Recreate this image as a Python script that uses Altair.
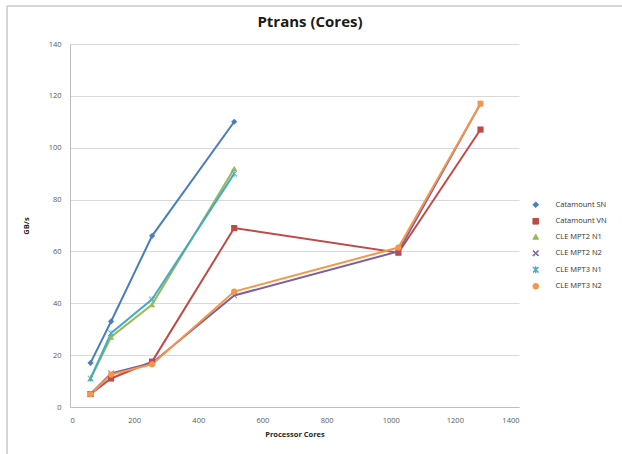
import altair as alt
import pandas as pd

series_names = ["Catamount SN", "Catamount VN", "CLE MPT2 N1",
                "CLE MPT2 N2", "CLE MPT3 N1", "CLE MPT3 N2"]
colors = ["#4a7ebb", "#be4b48", "#98b954", "#7d60a0", "#46aac5", "#f79646"]

# Marker shapes per series
x_path = "M-1,-0.8L-0.8,-1L0,-0.2L0.8,-1L1,-0.8L0.2,0L1,0.8L0.8,1L0,0.2L-0.8,1L-1,0.8L-0.2,0Z"
star_path = ("M-1,-0.8L-0.8,-1L-0.1,-0.3L-0.1,-1.1L0.1,-1.1L0.1,-0.3L0.8,-1L1,-0.8L0.2,0L1,0.8L0.8,1"
             "L0.1,0.3L0.1,1.1L-0.1,1.1L-0.1,0.3L-0.8,1L-1,0.8L-0.2,0Z")
shapes = ["diamond", "square", "triangle-up", x_path, star_path, "circle"]

cores_short = [64, 128, 256, 512]
cores_long = [64, 128, 256, 512, 1024, 1280]

catamount_sn = [17, 33, 66, 110]
catamount_vn = [5, 11, 17.5, 69, 59.5, 107]
cle_mpt2_n1 = [11, 27, 39.5, 92]
cle_mpt2_n2 = [5, 13, 17, 43, 60, 117]
cle_mpt3_n1 = [11, 28.5, 41.5, 90]
cle_mpt3_n2 = [5, 12.5, 16.5, 44.5, 61.5, 117]

title_text = "Ptrans (Cores)"

rows = []
for name, xs, ys in [
    ("Catamount SN", cores_short, catamount_sn),
    ("Catamount VN", cores_long, catamount_vn),
    ("CLE MPT2 N1", cores_short, cle_mpt2_n1),
    ("CLE MPT2 N2", cores_long, cle_mpt2_n2),
    ("CLE MPT3 N1", cores_short, cle_mpt3_n1),
    ("CLE MPT3 N2", cores_long, cle_mpt3_n2),
]:
    for x, y in zip(xs, ys):
        rows.append({"series": name, "cores": x, "gbs": y})
df = pd.DataFrame(rows)

FONT = "Open Sans"
GRID = "#d9d9d9"
LABEL = "#595959"

x_enc = alt.X("cores:Q", scale=alt.Scale(domain=[0, 1400]),
              axis=alt.Axis(values=list(range(0, 1401, 200)), format="d",
                            title="Processor Cores",
                            grid=False, ticks=False, labelPadding=9,
                            titlePadding=7))
y_enc = alt.Y("gbs:Q", scale=alt.Scale(domain=[0, 140]),
              axis=alt.Axis(values=list(range(0, 141, 20)), title="GB/s",
                            ticks=False, labelPadding=9, titlePadding=18))

legend = alt.Legend(title=None, orient="none", legendX=462, legendY=157,
                    rowPadding=5.5, labelFontSize=7.5, symbolSize=32, labelOffset=16,
                    labelFont=FONT, labelColor="#333333", symbolStrokeWidth=1)
color_enc = alt.Color("series:N", scale=alt.Scale(domain=series_names, range=colors),
                      legend=legend)
shape_enc = alt.Shape("series:N", scale=alt.Scale(domain=series_names, range=shapes),
                      legend=legend)

base = alt.Chart(df)
lines = base.mark_line(strokeWidth=2).encode(
    x=x_enc, y=y_enc, color=color_enc, detail="series:N",
)
points = base.mark_point(filled=True, size=38, opacity=1).encode(
    x=x_enc, y=y_enc, color=color_enc, shape=shape_enc,
)

one = pd.DataFrame({"t": [title_text]})

# Chart title, drawn as text above the plot area
title = alt.Chart(one).mark_text(
    font=FONT, fontSize=15, fontWeight="bold", color="#1a1a1a",
    align="center", baseline="middle", clip=False).encode(
    text="t:N", x=alt.value(240), y=alt.value(-22))

# Outer frame around the chart
frame_left = alt.Chart(one).mark_rule(
    color="#c8c8c8", strokeWidth=1.5, clip=False).encode(
    x=alt.value(-63), y=alt.value(-38), y2=alt.value(420))
frame_top = alt.Chart(one).mark_rule(
    color="#c8c8c8", strokeWidth=1.5, clip=False).encode(
    x=alt.value(-63), x2=alt.value(560), y=alt.value(-38))

chart = alt.layer(frame_left, frame_top, title, lines, points).properties(
    width=449, height=363,
    autosize=alt.AutoSizeParams(type="none"),
    padding={"left": 70, "top": 44, "right": 103, "bottom": 47},
    background="white",
).configure_view(stroke=None).configure_axis(
    labelFont=FONT, labelFontSize=7.5, labelColor=LABEL,
    titleFont=FONT, titleFontSize=7.5, titleFontWeight="bold", titleColor="#262626",
    domainColor="#bfbfbf", gridColor=GRID, gridWidth=1,
)

chart.save("out.html", embed_options={"renderer": "svg", "actions": False})
